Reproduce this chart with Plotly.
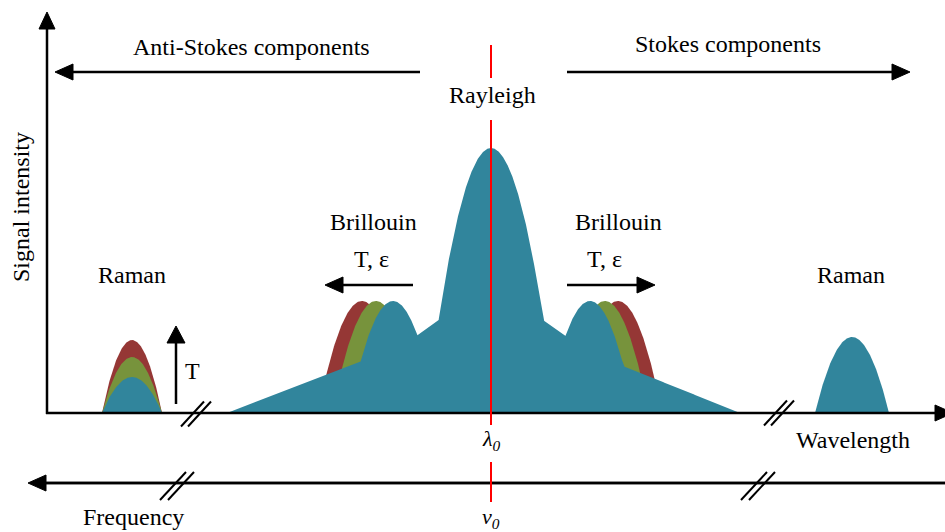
import numpy as np
import plotly.graph_objects as go

W, H = 945, 532
BASE = 413  # pixel row of zero intensity

# ---------------- data (schematic spectrum, intensity in px units) ----------------
raman_as_center = 132
raman_as_halfwidth = 30
raman_as_heights = [73, 56, 36]          # red, green, blue
raman_s_center = 852
raman_s_halfwidth = 37
raman_s_height = 76
brillouin_as_centers = [362, 376, 393]   # red, green, blue
brillouin_s_centers = [618, 605, 590]    # red, green, blue
brillouin_height = 112
brillouin_halfwidth = 44
rayleigh_center = 491
rayleigh_height = 265
rayleigh_halfwidth = 65
wing_broad_x = [227, 491, 740]
wing_broad_h = [0, 100, 0]
wing_narrow_x = [308, 491, 674]
wing_narrow_h = [0, 130, 0]
colors = ["#953735", "#77933C", "#31859C"]  # red, green, blue

FONT = "Liberation Serif, Times New Roman, serif"


def parab(x, c, w, h):
    return np.clip(h * (1 - ((x - c) / w) ** 2), 0, None)


def hump(c, w, h, color):
    x = np.linspace(c - w, c + w, 161)
    y = parab(x, c, w, h)
    return go.Scatter(x=x, y=y, mode="lines", fill="tozeroy", fillcolor=color,
                      line=dict(width=0, color=color), hoverinfo="skip")


fig = go.Figure()

# Anti-Stokes Raman (stacked)
for hgt, col in zip(raman_as_heights, colors):
    fig.add_trace(hump(raman_as_center, raman_as_halfwidth, hgt, col))
# Stokes Raman
fig.add_trace(hump(raman_s_center, raman_s_halfwidth, raman_s_height, colors[2]))
# Brillouin red/green (behind)
for i in range(2):
    fig.add_trace(hump(brillouin_as_centers[i], brillouin_halfwidth, brillouin_height, colors[i]))
    fig.add_trace(hump(brillouin_s_centers[i], brillouin_halfwidth, brillouin_height, colors[i]))

# Blue envelope: wings + Rayleigh + blue Brillouin
xg = np.linspace(wing_broad_x[0], wing_broad_x[-1], 2500)
env = np.maximum.reduce([
    np.interp(xg, wing_broad_x, wing_broad_h),
    np.interp(xg, wing_narrow_x, wing_narrow_h),
    parab(xg, rayleigh_center, rayleigh_halfwidth, rayleigh_height),
    parab(xg, brillouin_as_centers[2], brillouin_halfwidth, brillouin_height),
    parab(xg, brillouin_s_centers[2], brillouin_halfwidth, brillouin_height),
])
fig.add_trace(go.Scatter(x=xg, y=env, mode="lines", fill="tozeroy", fillcolor=colors[2],
                         line=dict(width=0, color=colors[2]), hoverinfo="skip"))

# ---------------- decorations ----------------
shapes = []


def Y(py):
    return BASE - py


def line(x0, y0, x1, y1, color="black", width=2.5):
    shapes.append(dict(type="line", xref="x", yref="y", x0=x0, y0=Y(y0), x1=x1, y1=Y(y1),
                       line=dict(color=color, width=width), layer="above"))


def arrow(x0, y0, x1, y1, hl=18, hw=8, width=2.5):
    d = np.array([x1 - x0, y1 - y0], float)
    L = np.hypot(*d)
    u = d / L
    n = np.array([-u[1], u[0]])
    bx, by = x1 - u[0] * hl, y1 - u[1] * hl
    line(x0, y0, bx + u[0] * 2, by + u[1] * 2, width=width)
    p1 = (bx + n[0] * hw, by + n[1] * hw)
    p2 = (bx - n[0] * hw, by - n[1] * hw)
    path = f"M {x1},{Y(y1)} L {p1[0]},{Y(p1[1])} L {p2[0]},{Y(p2[1])} Z"
    shapes.append(dict(type="path", xref="x", yref="y", path=path,
                       fillcolor="black", line=dict(color="black", width=1), layer="above"))


def brk(cx, cy, gap=7, dx=11.5, dy=12.5):
    for off in (-gap / 2, gap / 2):
        line(cx + off - dx, cy + dy, cx + off + dx, cy - dy, width=2)


# axes
arrow(47, BASE + 1, 47, 12, hl=17, hw=8)
arrow(46, BASE, 953, BASE, hl=18, hw=8)
line(45, 483, 945, 483)
arrow(945, 483, 28, 483, hl=18, hw=8)
# top arrows
arrow(420, 72, 55, 72, hl=18, hw=8)
arrow(567, 72, 910, 72, hl=18, hw=8)
# Brillouin arrows
arrow(413, 285, 325, 285, hl=18, hw=8)
arrow(567, 285, 655, 285, hl=18, hw=8)
# Raman T arrow
arrow(176, 404, 176, 326, hl=17, hw=9)
# breaks
brk(196, 414)
brk(779, 413)
brk(177, 486, gap=8, dx=13, dy=14)
brk(758, 486, gap=8, dx=13, dy=14)
# red Rayleigh line
for a, b in [(45, 78), (120, 425), (462, 502)]:
    line(rayleigh_center, a, rayleigh_center, b, color="#FF0000", width=2)

annotations = []


def txt(x, y, s, size=24, angle=0):
    annotations.append(dict(x=x, y=Y(y), xref="x", yref="y", text=s, showarrow=False,
                            xanchor="center", yanchor="middle", textangle=angle,
                            font=dict(family=FONT, size=size, color="black")))


txt(251, 47, "Anti-Stokes components")
txt(728, 44, "Stokes components")
txt(492, 95, "Rayleigh")
txt(373, 222, "Brillouin")
txt(618, 222, "Brillouin")
txt(371, 259, "T, ε")
txt(604, 259, "T, ε")
txt(132, 275, "Raman")
txt(851, 275, "Raman")
txt(192, 371, "T")
txt(491, 440, "<i>λ</i><sub><i>0</i></sub>", size=22)
txt(853, 440, "Wavelength")
txt(133, 517, "Frequency")
txt(491, 518, "<i>v</i><sub><i>0</i></sub>", size=22)
txt(21, 207, "Signal intensity", angle=-90)

fig.update_layout(
    width=W, height=H, margin=dict(l=0, r=0, t=0, b=0),
    paper_bgcolor="white", plot_bgcolor="white", showlegend=False,
    xaxis=dict(range=[0, W], visible=False, fixedrange=True),
    yaxis=dict(range=[BASE - H, BASE], visible=False, fixedrange=True),
    shapes=shapes, annotations=annotations,
)
fig.write_html("out.html", config={"displayModeBar": False},
               post_script="document.body.style.margin='0';document.body.style.overflow='hidden';")
